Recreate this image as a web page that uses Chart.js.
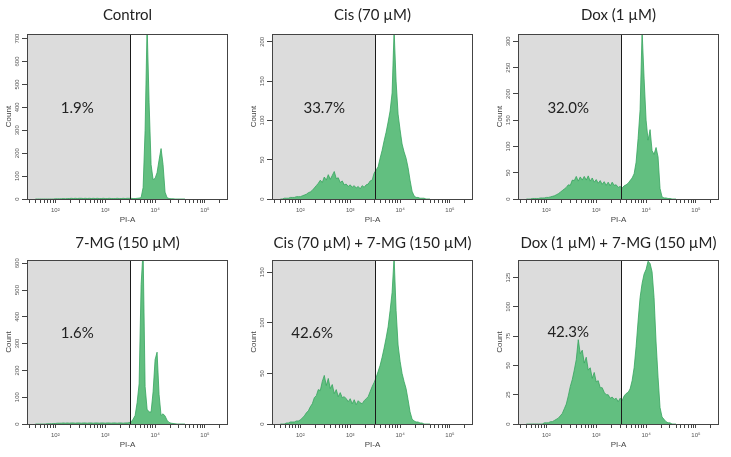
<!DOCTYPE html>
<html>
<head>
<meta charset="utf-8">
<script src="https://cdn.jsdelivr.net/npm/chart.js@4.4.1/dist/chart.umd.min.js"></script>
<style>
  body { margin: 0; background: #fff; width: 731px; height: 457px; position: relative; overflow: hidden; }
  .panel { position: absolute; }
</style>
</head>
<body>
<div class="panel" id="p0"><canvas></canvas></div>
<div class="panel" id="p1"><canvas></canvas></div>
<div class="panel" id="p2"><canvas></canvas></div>
<div class="panel" id="p3"><canvas></canvas></div>
<div class="panel" id="p4"><canvas></canvas></div>
<div class="panel" id="p5"><canvas></canvas></div>
<script>
// PI-A bins, log10 of the channel value
const binLog = [
  1.60,1.64,1.68,1.72,1.76,1.80,1.84,1.88,1.92,1.96,
  2.00,2.04,2.08,2.12,2.16,2.20,2.24,2.28,2.32,2.36,
  2.40,2.44,2.48,2.52,2.56,2.60,2.64,2.68,2.72,2.76,
  2.80,2.84,2.88,2.92,2.96,3.00,3.04,3.08,3.12,3.16,
  3.20,3.24,3.28,3.32,3.36,3.40,3.44,3.48,3.52,3.56,
  3.60,3.64,3.68,3.72,3.76,3.80,3.84,3.88,3.92,3.96,
  4.00,4.04,4.08,4.12,4.16,4.20,4.24,4.28,4.32,4.36,
  4.40,4.44,4.48,4.52,4.56,4.60,
];

const control = [
  0,0,0,0,0,0,0,0,0,0,
  1,1,1,1,2,1,2,2,3,2,
  3,2,3,3,2,3,2,3,2,3,
  2,3,2,2,3,2,2,3,2,2,
  2,3,2,2,3,2,3,3,3,2,
  2,3,4,6,50,300,760,420,150,85,
  90,115,170,220,150,30,6,2,1,1,
  0,0,0,0,0,0,
];
const cis = [
  0,0,1,1,1,2,2,2,3,3,
  3,4,5,6,8,9,11,14,17,20,
  24,21,28,24,31,25,30,35,26,27,
  21,23,18,19,16,18,15,17,14,16,
  13,17,15,18,19,23,24,33,37,41,
  52,62,74,85,98,112,135,215,150,108,
  88,70,60,52,40,24,10,4,2,2,
  1,1,1,0,0,0,
];
const dox = [
  0,0,0,1,1,1,1,2,2,2,
  3,3,4,5,6,8,10,13,16,19,
  22,27,26,36,35,43,34,42,36,43,
  36,44,34,40,32,37,30,35,28,33,
  26,32,25,32,26,27,22,24,21,25,
  27,30,35,40,48,70,115,170,320,230,
  150,112,132,92,85,98,80,20,4,2,
  2,1,1,0,0,0,
];
const mg = [
  0,0,0,0,0,0,1,1,1,2,
  2,3,3,3,4,3,4,3,4,4,
  3,4,4,3,4,4,3,4,4,3,
  4,4,3,4,4,3,4,4,3,4,
  4,3,4,4,3,4,4,5,8,18,
  32,80,150,520,650,140,55,45,45,120,
  240,268,110,32,38,30,14,6,3,2,
  1,0,0,0,0,0,
];
const cisMg = [
  0,0,0,1,1,2,2,2,3,3,
  4,6,8,11,13,17,20,26,28,34,
  33,42,48,38,45,35,39,30,34,27,
  31,26,27,25,22,25,20,24,19,23,
  21,20,23,25,27,32,37,41,46,52,
  58,66,75,85,96,112,130,165,112,78,
  62,50,42,35,24,12,5,3,2,2,
  1,1,0,0,0,0,
];
const doxMg = [
  0,0,0,0,0,0,0,0,0,1,
  1,1,2,2,3,4,5,7,9,13,
  17,24,32,38,46,55,72,60,63,52,
  57,46,48,39,44,36,37,31,31,27,
  25,25,22,23,21,22,19,22,20,24,
  26,27,30,37,48,66,88,108,120,128,
  132,139,137,130,108,70,40,14,6,4,
  2,1,1,0,0,0,
];

const titles = ['Control', 'Cis (70 µM)', 'Dox (1 µM)', '7-MG (150 µM)',
  'Cis (70 µM) + 7-MG (150 µM)', 'Dox (1 µM) + 7-MG (150 µM)'];
const pctLabels = ['1.9%', '33.7%', '32.0%', '1.6%', '42.6%', '42.3%'];
const series = [control, cis, dox, mg, cisMg, doxMg];
const yMax = [720, 210, 314, 612, 162, 140];
const yStep = [100, 50, 50, 100, 50, 25];
const gate = 3200;

// panel boxes: left, top, width, height, right pad, top pad, x axis height, title y, pct position
const boxes = [
  [0,   0,   243, 228, 15, 34, 29, 15, 0.25, 0.45],
  [245, 0,   243, 228, 15, 34, 29, 15, 0.26, 0.45],
  [491, 0,   240, 228, 12, 34, 29, 15, 0.25, 0.45],
  [0,   228, 243, 229, 15, 32, 33, 15, 0.25, 0.445],
  [245, 228, 243, 229, 15, 32, 33, 15, 0.20, 0.445],
  [491, 228, 240, 229, 12, 32, 33, 15, 0.25, 0.44],
];

const xTicks = [];
for (const d of [10, 100, 1000, 10000, 100000])
  for (let k = 1; k < 10; k++) if (k * d >= 30 && k * d <= 200000) xTicks.push(k * d);
const powLabel = { 100: '10²', 1000: '10³', 10000: '10⁴', 100000: '10⁵' };

const facs = {
  id: 'facs',
  beforeDatasetsDraw(chart) {
    const { ctx, chartArea: a, scales: { x } } = chart;
    const gx = x.getPixelForValue(gate);
    ctx.save();
    ctx.fillStyle = '#dcdcdc';
    ctx.fillRect(a.left, a.top, gx - a.left, a.bottom - a.top);
    ctx.restore();
  },
  afterDatasetsDraw(chart, args, o) {
    const { ctx, chartArea: a, scales: { x, y } } = chart;
    const gx = Math.round(x.getPixelForValue(gate)) + 0.5;
    ctx.save();
    ctx.lineWidth = 1;
    ctx.strokeStyle = '#1a1a1a';
    ctx.beginPath(); ctx.moveTo(gx, a.top); ctx.lineTo(gx, a.bottom); ctx.stroke();
    ctx.strokeStyle = '#444';
    ctx.strokeRect(Math.round(a.left) + 0.5, Math.round(a.top) + 0.5,
      Math.round(a.right - a.left) - 1, Math.round(a.bottom - a.top));
    // rotated count labels
    ctx.fillStyle = '#555';
    ctx.font = '6px "Liberation Sans"';
    ctx.textAlign = 'center';
    ctx.textBaseline = 'middle';
    for (const t of y.ticks) {
      ctx.save();
      ctx.translate(a.left - 10, y.getPixelForValue(t.value));
      ctx.rotate(-Math.PI / 2);
      ctx.fillText(String(t.value), 0, 0);
      ctx.restore();
    }
    ctx.fillStyle = '#222';
    ctx.font = '15px Lato';
    ctx.fillText(o.title, (a.left + a.right) / 2, o.titleY);
    ctx.fillText(o.pct, a.left + o.px * (a.right - a.left), a.top + o.py * (a.bottom - a.top));
    ctx.restore();
  },
};

series.forEach((vals, i) => {
  const [left, top, w, h, padR, padT, xH, titleY, px, py] = boxes[i];
  const div = document.getElementById('p' + i);
  Object.assign(div.style, { left: left + 'px', top: top + 'px', width: w + 'px', height: h + 'px' });
  new Chart(div.querySelector('canvas'), {
    type: 'line',
    data: {
      datasets: [{
        data: binLog.map((v, k) => ({ x: Math.pow(10, v), y: vals[k] })),
        fill: 'origin',
        backgroundColor: '#62bf80',
        borderColor: '#36a45e',
        borderWidth: 0.8,
        pointRadius: 0,
        tension: 0,
      }],
    },
    options: {
      responsive: true,
      maintainAspectRatio: false,
      animation: false,
      layout: { padding: { left: 0, right: padR, top: padT, bottom: 0 } },
      plugins: {
        legend: { display: false },
        tooltip: { enabled: false },
        facs: { title: titles[i], pct: pctLabels[i], titleY: titleY, px: px, py: py },
      },
      scales: {
        x: {
          type: 'logarithmic',
          min: 27,
          max: 290000,
          afterBuildTicks: (s) => { s.ticks = xTicks.map((v) => ({ value: v })); },
          afterFit: (s) => { s.height = xH; },
          ticks: {
            autoSkip: false, maxRotation: 0, minRotation: 0, padding: 4,
            font: { family: 'Liberation Sans', size: 6 }, color: '#555',
            callback: (v) => powLabel[v] || '',
          },
          grid: { drawOnChartArea: false, tickLength: 4, color: '#444', tickWidth: 1 },
          border: { display: false },
          title: { display: true, text: 'PI-A', font: { family: 'Liberation Sans', size: 8 },
            color: '#444', padding: { top: 0, bottom: xH - 26 } },
        },
        y: {
          min: 0,
          max: yMax[i],
          afterFit: (s) => { s.width = 27; },
          ticks: { stepSize: yStep[i], includeBounds: false, display: false },
          grid: { drawOnChartArea: false, tickLength: 5, color: '#444' },
          border: { display: false },
          title: { display: true, text: 'Count', font: { family: 'Liberation Sans', size: 8 },
            color: '#444', padding: { top: 4, bottom: 0 } },
        },
      },
    },
    plugins: [facs],
  });
});
</script>
</body>
</html>
